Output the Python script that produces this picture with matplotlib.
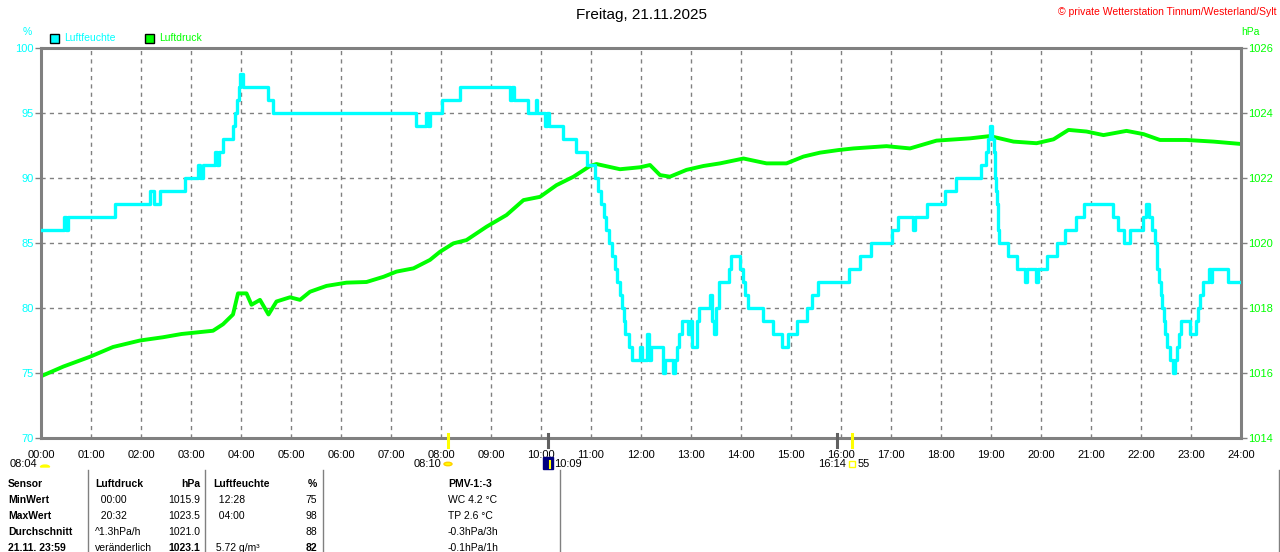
import matplotlib
matplotlib.use("Agg")
import matplotlib.pyplot as plt
from matplotlib.patches import Rectangle, Wedge, Circle

plt.rcParams['font.family'] = ['Liberation Sans', 'DejaVu Sans']

# Luftfeuchte (%), step series: time in hours, value
hum_t = [0.00, 0.45, 0.50, 0.53, 1.48, 2.18, 2.25, 2.38, 2.88, 3.14, 3.18, 3.24,
         3.48, 3.52, 3.56, 3.63, 3.83, 3.87, 3.91, 3.95, 3.98, 4.04, 4.54, 4.64,
         7.50, 7.70, 7.73, 7.78, 8.01, 8.38, 9.38, 9.42, 9.45, 9.74, 9.89, 9.92,
         10.08, 10.12, 10.16, 10.43, 10.70, 10.91, 11.08, 11.13, 11.20, 11.25,
         11.30, 11.36, 11.42, 11.47, 11.52, 11.57, 11.62, 11.65, 11.68, 11.76,
         11.82, 11.98, 12.02, 12.12, 12.16, 12.20, 12.22, 12.44, 12.48, 12.64,
         12.67, 12.72, 12.76, 12.81, 12.94, 12.98, 13.02, 13.12, 13.16, 13.38,
         13.42, 13.46, 13.50, 13.55, 13.75, 13.80, 13.98, 14.04, 14.08, 14.14,
         14.44, 14.64, 14.81, 14.94, 15.11, 15.31, 15.41, 15.54, 16.16, 16.38,
         16.60, 17.01, 17.14, 17.44, 17.48, 17.72, 18.08, 18.31, 18.79, 18.89,
         18.93, 18.97, 19.02, 19.05, 19.08, 19.10, 19.12, 19.14, 19.16, 19.34,
         19.51, 19.68, 19.72, 19.90, 19.94, 20.11, 20.31, 20.48, 20.70, 20.86,
         21.43, 21.53, 21.65, 21.78, 22.03, 22.10, 22.16, 22.22, 22.27, 22.32,
         22.36, 22.39, 22.42, 22.45, 22.48, 22.52, 22.57, 22.64, 22.68, 22.72,
         22.76, 22.80, 22.98, 23.10, 23.14, 23.18, 23.24, 23.36, 23.39, 23.41,
         23.74, 23.96]
hum_v = [86, 87, 86, 87, 88, 89, 88, 89, 90, 91, 90, 91,
         92, 91, 92, 93, 94, 95, 96, 97, 98, 97, 96, 95,
         94, 95, 94, 95, 96, 97, 96, 97, 96, 95, 96, 95,
         94, 95, 94, 93, 92, 91, 90, 89, 88, 87,
         86, 85, 84, 83, 82, 81, 80, 79, 78, 77,
         76, 77, 76, 78, 76, 77, 77, 75, 76, 75,
         76, 77, 78, 79, 78, 79, 77, 79, 80, 81,
         79, 78, 80, 82, 83, 84, 83, 82, 81, 80,
         79, 78, 77, 78, 79, 80, 81, 82, 83, 84,
         85, 86, 87, 86, 87, 88, 89, 90, 91, 92,
         93, 94, 93, 92, 90, 89, 88, 86, 85, 84,
         83, 82, 83, 82, 83, 84, 85, 86, 87, 88,
         87, 86, 85, 86, 87, 88, 87, 86, 85, 83,
         82, 81, 80, 79, 78, 77, 76, 75, 76, 77,
         78, 79, 78, 79, 80, 81, 82, 83, 82, 83,
         82, 82]

# Luftdruck (hPa)
p_t = [0.00, 0.45, 0.98, 1.44, 1.98, 2.44, 2.81, 3.44, 3.64, 3.84, 3.94, 4.11,
       4.21, 4.38, 4.55, 4.71, 4.98, 5.18, 5.38, 5.71, 6.11, 6.51, 6.85, 7.11,
       7.45, 7.78, 7.98, 8.25, 8.51, 8.91, 9.31, 9.65, 9.98, 10.31, 10.65,
       10.98, 11.11, 11.58, 11.98, 12.18, 12.38, 12.58, 12.91, 13.25, 13.58,
       14.05, 14.51, 14.91, 15.25, 15.58, 15.95, 16.25, 16.91, 17.38, 17.91,
       18.58, 18.98, 19.45, 19.91, 20.25, 20.55, 20.91, 21.25, 21.71, 22.05,
       22.38, 22.91, 23.45, 23.98]
p_v = [1015.9, 1016.2, 1016.5, 1016.8, 1017.0, 1017.1, 1017.2, 1017.3, 1017.5,
       1017.8, 1018.45, 1018.45, 1018.1, 1018.25, 1017.8, 1018.2, 1018.33,
       1018.25, 1018.5, 1018.68, 1018.78, 1018.8, 1018.96, 1019.12, 1019.22,
       1019.48, 1019.73, 1019.99, 1020.09, 1020.5, 1020.86, 1021.32, 1021.42,
       1021.78, 1022.04, 1022.37, 1022.43, 1022.27, 1022.33, 1022.4, 1022.09,
       1022.04, 1022.25, 1022.37, 1022.45, 1022.6, 1022.45, 1022.45, 1022.66,
       1022.78, 1022.86, 1022.91, 1022.98, 1022.91, 1023.15, 1023.22, 1023.29,
       1023.12, 1023.07, 1023.19, 1023.48, 1023.43, 1023.32, 1023.45, 1023.35,
       1023.17, 1023.17, 1023.12, 1023.05]

hours = list(range(0, 25))
hour_labels = [f"{h:02d}:00" for h in hours]
hum_ticks = [70, 75, 80, 85, 90, 95, 100]
p_ticks = [1014, 1016, 1018, 1020, 1022, 1024, 1026]

table_rows = [
    ["Sensor", "Luftdruck", "hPa", "Luftfeuchte", "%", "PMV-1:-3"],
    ["MinWert", "  00:00", "1015.9", "  12:28", "75", "WC 4.2 °C"],
    ["MaxWert", "  20:32", "1023.5", "  04:00", "98", "TP 2.6 °C"],
    ["Durchschnitt", "^1.3hPa/h", "1021.0", "", "88", "-0.3hPa/3h"],
    ["21.11. 23:59", "veränderlich", "1023.1", " 5.72 g/m³", "82", "-0.1hPa/1h"],
]

W, H = 1280, 552
CYAN = "#00ffff"
GREEN = "#00ff00"
GRAY = "#808080"


def fx(px):
    return px / W


def fy(py):
    return 1 - py / H


fig = plt.figure(figsize=(W / 100, H / 100), dpi=100)
ax = fig.add_axes([fx(41), fy(438), 1200 / W, 390 / H])
ax2 = ax.twinx()

# pressure axis (bottom layer, carries grid), ticks on the right
ax.plot(p_t, p_v, color=GREEN, linewidth=2.8)
ax.set_xlim(0, 24)
ax.set_ylim(1014, 1026)
ax.set_xticks(hours)
ax.set_xticklabels(hour_labels)
ax.set_yticks(p_ticks)
ax.yaxis.tick_right()
ax.tick_params(axis='y', colors=GRAY, length=4, width=1, labelsize=8, pad=1)
ax.tick_params(axis='x', length=0, labelsize=8, labelcolor='black', pad=9)
ax.grid(True, color=GRAY, linestyle=(0, (3, 3)), linewidth=1)
for s in ax.spines.values():
    s.set_color(GRAY)
    s.set_linewidth(2.2)

# humidity axis on top, ticks on the left
ax2.step(hum_t, hum_v, where='post', color=CYAN, linewidth=2.4)
ax2.set_ylim(70, 100)
ax2.set_yticks(hum_ticks)
ax2.yaxis.tick_left()
ax2.tick_params(axis='y', colors=GRAY, length=4, width=1, labelsize=8, pad=1)
for s in ax2.spines.values():
    s.set_visible(False)

for t in ax.yaxis.get_major_ticks():
    t.label1.set_color(GREEN)
    t.label2.set_color(GREEN)
for t in ax2.yaxis.get_major_ticks():
    t.label1.set_color(CYAN)
    t.label2.set_color(CYAN)

# header texts
fig.text(fx(642), fy(15), "Freitag, 21.11.2025", ha='center', va='center',
         fontsize=11)
fig.text(fx(1276), fy(12), "© private Wetterstation Tinnum/Westerland/Sylt",
         ha='right', va='center', fontsize=7.5, color='red')
fig.text(fx(27), fy(32), "%", ha='center', va='center', fontsize=7.5,
         color=CYAN)
fig.text(fx(1250), fy(32), "hPa", ha='center', va='center', fontsize=7.5,
         color=GREEN)
fig.patches.append(Rectangle((fx(50), fy(43)), 9 / W, 9 / H, facecolor=CYAN,
                             edgecolor='black', linewidth=1,
                             transform=fig.transFigure))
fig.text(fx(64), fy(38), "Luftfeuchte", va='center', fontsize=7.5, color=CYAN)
fig.patches.append(Rectangle((fx(145), fy(43)), 9 / W, 9 / H, facecolor=GREEN,
                             edgecolor='black', linewidth=1,
                             transform=fig.transFigure))
fig.text(fx(159), fy(38), "Luftdruck", va='center', fontsize=7.5, color=GREEN)

# sun / moon markers below the time axis
for px, col in [(448, '#ffff00'), (852, '#ffff00'), (548, '#606060'),
                (837, '#606060')]:
    fig.add_artist(plt.Line2D([fx(px), fx(px)], [fy(434), fy(447)], color=col,
                              linewidth=2.2, transform=fig.transFigure))

fig.text(fx(37), fy(464), "08:04", ha='right', va='center', fontsize=8)
fig.patches.append(Wedge((fx(45), fy(467)), 4.5 / W, 0, 180, facecolor='#ffff00',
                         edgecolor='#ffff00', transform=fig.transFigure))
fig.text(fx(441), fy(464), "08:10", ha='right', va='center', fontsize=8)
fig.patches.append(Circle((fx(448), fy(464)), 4 / W, facecolor='#ffff00',
                          edgecolor='#ffd000', transform=fig.transFigure))
fig.patches.append(Rectangle((fx(543), fy(469)), 10 / W, 12 / H,
                             facecolor='#000080', edgecolor='#000080',
                             transform=fig.transFigure))
fig.add_artist(plt.Line2D([fx(550), fx(550)], [fy(468), fy(461)],
                          color='#ffff00', linewidth=1.5,
                          transform=fig.transFigure))
fig.text(fx(554), fy(464), "10:09", ha='left', va='center', fontsize=8)
fig.text(fx(846), fy(464), "16:14", ha='right', va='center', fontsize=8)
fig.patches.append(Rectangle((fx(849), fy(467)), 6 / W, 6 / H,
                             facecolor='white', edgecolor='#ffff00',
                             linewidth=1, transform=fig.transFigure))
fig.text(fx(858), fy(464), "55", ha='left', va='center', fontsize=8)

# statistics table
for px in [88, 205, 323, 560, 1279]:
    fig.add_artist(plt.Line2D([fx(px), fx(px)], [fy(470), fy(552)], color=GRAY,
                              linewidth=1, transform=fig.transFigure))

for i, row in enumerate(table_rows):
    y = fy(484 + 16 * i)
    head = i == 0
    last = i == len(table_rows) - 1
    fig.text(fx(8), y, row[0], va='center', fontsize=7.5, weight='bold')
    fig.text(fx(95), y, row[1], va='center', fontsize=7.5,
             weight='bold' if head else 'normal')
    fig.text(fx(200), y, row[2], ha='right', va='center', fontsize=7.5,
             weight='bold' if (head or last) else 'normal')
    fig.text(fx(213), y, row[3], va='center', fontsize=7.5,
             weight='bold' if head else 'normal')
    fig.text(fx(317), y, row[4], ha='right', va='center', fontsize=7.5,
             weight='bold' if (head or last) else 'normal')
    fig.text(fx(448), y, row[5], va='center', fontsize=7.5,
             weight='bold' if head else 'normal')

fig.savefig("out.png", dpi=100)
